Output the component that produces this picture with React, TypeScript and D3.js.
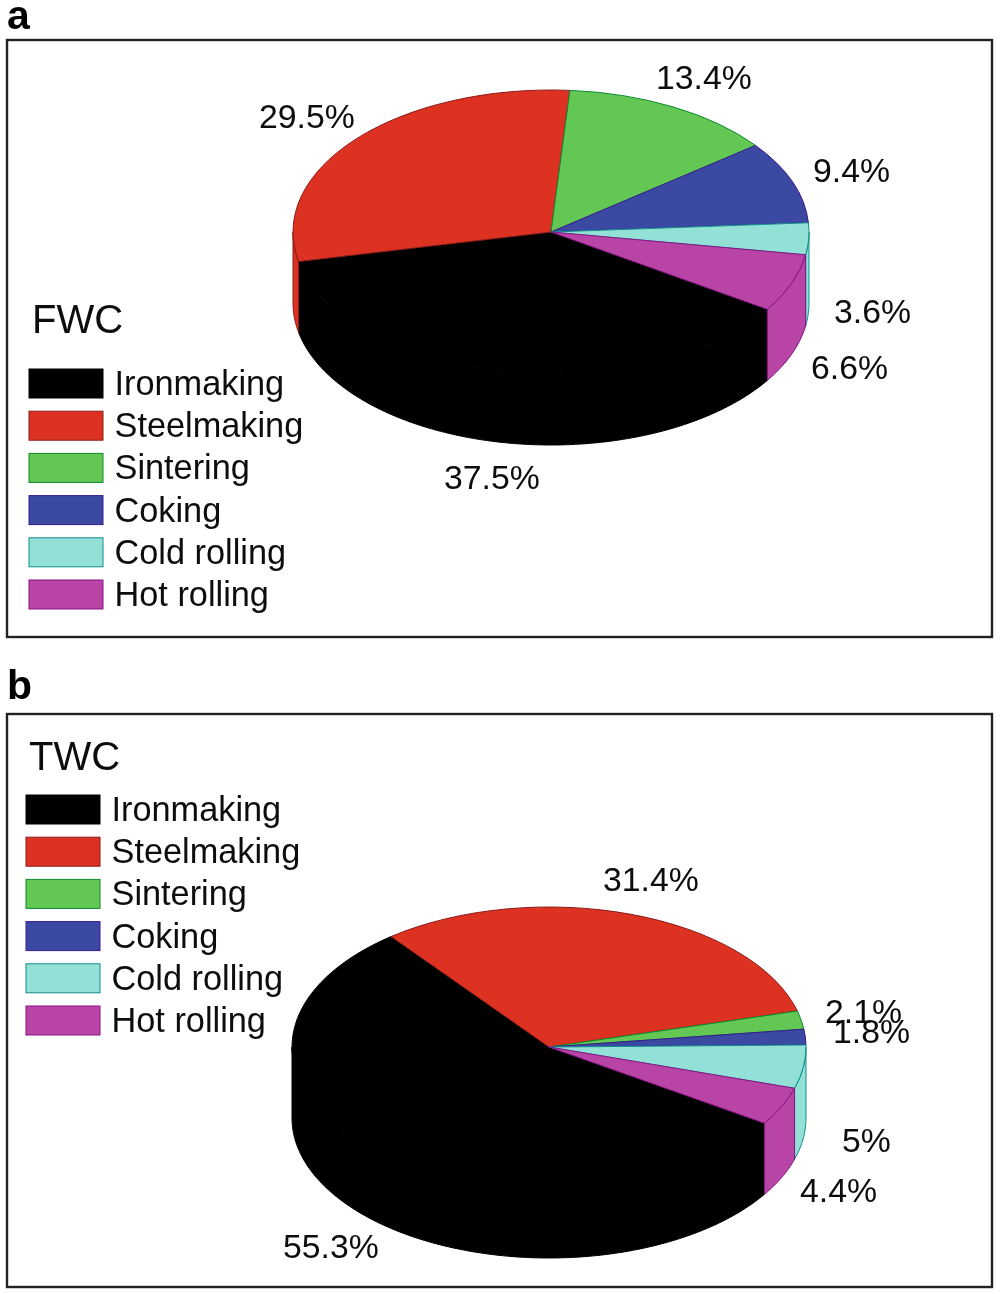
import React from "react";
import * as d3 from "d3";

const categories = ["Ironmaking", "Steelmaking", "Sintering", "Coking", "Cold rolling", "Hot rolling"];
const fwcValues = [37.5, 29.5, 13.4, 9.4, 3.6, 6.6];
const twcValues = [55.3, 31.4, 2.1, 1.8, 5, 4.4];
const fwcLabels = ["37.5%", "29.5%", "13.4%", "9.4%", "3.6%", "6.6%"];
const twcLabels = ["55.3%", "31.4%", "2.1%", "1.8%", "5%", "4.4%"];
const fills = ["#000000", "#dd3024", "#62c752", "#3a4aa2", "#93e0d6", "#b845a6"];
const strokes = ["#000000", "#8a1c18", "#0c8a30", "#3a1a90", "#0f8f8c", "#8a1488"];

const FONT = "'Liberation Sans', Arial, sans-serif";
const TEXT = "#0c0c0c";
const RX = 258;
const DEPTH = 71;
const deg = (d: number) => (d * Math.PI) / 180;

type PanelProps = {
  values: number[];
  labels: string[];
  labelPos: [number, number][];
  title: string;
  titleX: number;
  titleY: number;
  frameY: [number, number];
  letter: string;
  letterY: number;
  cx: number;
  cy: number;
  ry: number;
  rx: number;
  startDeg: number;
  legendX: number;
  legendY: number;
};

function Pie3D({ values, cx, cy, rx, ry, startDeg }: PanelProps) {
  const arcs = d3
    .pie<number>()
    .sort(null)
    .startAngle(deg(startDeg))
    .endAngle(deg(startDeg + 360))(values);
  const arcGen = d3.arc<d3.PieArcDatum<number>>().innerRadius(0).outerRadius(rx);
  const pt = (a: number, dz: number): [number, number] => [
    cx + rx * Math.sin(a),
    cy - ry * Math.cos(a) + dz,
  ];
  const line = d3.line();
  const sides = arcs.map((d, i) => {
    // the wall shows only on the front half of the ellipse
    const spans: [number, number][] = [
      [Math.max(d.startAngle, deg(90)), Math.min(d.endAngle, deg(270))],
      [Math.max(d.startAngle, deg(450)), Math.min(d.endAngle, deg(630))],
    ];
    return spans
      .filter(([a, b]) => b > a)
      .map(([a, b], j) => {
        const n = Math.max(2, Math.ceil((b - a) / deg(1)));
        const as = d3.range(n + 1).map((k) => a + ((b - a) * k) / n);
        const pts = [...as.map((t) => pt(t, 0)), ...as.slice().reverse().map((t) => pt(t, DEPTH))];
        return (
          <path
            key={`${i}-${j}`}
            d={(line(pts) as string) + "Z"}
            fill={fills[i]}
            stroke={strokes[i]}
            strokeWidth={1}
          />
        );
      });
  });
  return (
    <g>
      <g>{sides}</g>
      <g transform={`translate(${cx},${cy}) scale(1,${ry / rx})`}>
        {arcs.map((d, i) => (
          <path
            key={i}
            d={arcGen(d) as string}
            fill={fills[i]}
            stroke={strokes[i]}
            strokeWidth={1}
            vectorEffect="non-scaling-stroke"
          />
        ))}
      </g>
    </g>
  );
}

function Panel(p: PanelProps) {
  const legendY = d3.scaleLinear().domain([0, 1]).range([p.legendY, p.legendY + 42.2]);
  return (
    <g fontFamily={FONT} fill={TEXT}>
      <text x={7} y={p.letterY} fontSize={41} fontWeight="bold" fill="#000">
        {p.letter}
      </text>
      <rect
        x={7}
        y={p.frameY[0]}
        width={985}
        height={p.frameY[1] - p.frameY[0]}
        fill="#fff"
        stroke="#222"
        strokeWidth={2.4}
      />
      <Pie3D {...p} />
      <text x={p.titleX} y={p.titleY} fontSize={40}>
        {p.title}
      </text>
      {categories.map((c, i) => (
        <g key={c}>
          <rect
            x={p.legendX}
            y={legendY(i)}
            width={74}
            height={29}
            fill={fills[i]}
            stroke={strokes[i]}
            strokeWidth={1}
          />
          <text x={p.legendX + 85.5} y={legendY(i) + 26} fontSize={34.3}>
            {c}
          </text>
        </g>
      ))}
      {p.labels.map((l, i) => (
        <text key={i} x={p.labelPos[i][0]} y={p.labelPos[i][1]} fontSize={33.8}>
          {l}
        </text>
      ))}
    </g>
  );
}

export default function App() {
  return (
    <svg
      width={1000}
      height={1294}
      viewBox="0 0 1000 1294"
      style={{ position: "absolute", left: 0, top: 0, display: "block", background: "#fff" }}
    >
      <defs>
        <filter id="soft" x="0" y="0" width="100%" height="100%">
          <feGaussianBlur stdDeviation={0.55} />
        </filter>
      </defs>
      <g filter="url(#soft)">
        <rect width={1000} height={1294} fill="#fff" />
        <Panel
          values={fwcValues}
          labels={fwcLabels}
          labelPos={[
            [444, 489],
            [259, 128],
            [656, 89],
            [813, 182],
            [834, 323],
            [811, 379],
          ]}
          title="FWC"
          titleX={32}
          titleY={333}
          frameY={[40, 637]}
          letter="a"
          letterY={28.5}
          cx={551}
          cy={232}
          rx={RX}
          ry={142}
          startDeg={123}
          legendX={29}
          legendY={369}
        />
        <Panel
          values={twcValues}
          labels={twcLabels}
          labelPos={[
            [283, 1258],
            [603, 891],
            [825, 1023],
            [833, 1043],
            [842, 1152],
            [800, 1202],
          ]}
          title="TWC"
          titleX={29}
          titleY={770}
          frameY={[714, 1287]}
          letter="b"
          letterY={699}
          cx={549}
          cy={1047}
          rx={RX - 1}
          ry={140}
          startDeg={123}
          legendX={26}
          legendY={795}
        />
      </g>
    </svg>
  );
}
